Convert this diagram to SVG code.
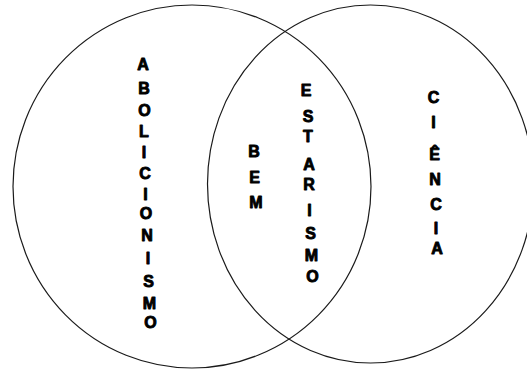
<svg xmlns="http://www.w3.org/2000/svg" width="527" height="370" viewBox="0 0 527 370">
<style>
.c{fill:none;stroke:#1a1a1a;stroke-width:1.2}
.t{font-family:"Liberation Sans",Arial,sans-serif;font-weight:bold;font-size:16px;fill:#000;stroke:#000;stroke-width:0.9;stroke-linejoin:round;text-anchor:middle}
</style>
<rect width="527" height="370" fill="#fff"/>
<g id="set-left">
<ellipse class="c" cx="192" cy="186.5" rx="179" ry="181.5"/>
</g>
<g id="set-right">
<ellipse class="c" cx="370.5" cy="184" rx="163" ry="179"/>
</g>
<g id="label-abolicionismo">
<text class="t"><tspan x="143" y="69.5">A</tspan><tspan x="144" y="93.5">B</tspan><tspan x="144.5" y="116">O</tspan><tspan x="144" y="137">L</tspan><tspan x="144" y="158">I</tspan><tspan x="145" y="179">C</tspan><tspan x="145.5" y="200">I</tspan><tspan x="146" y="219">O</tspan><tspan x="147" y="240.5">N</tspan><tspan x="148" y="264">I</tspan><tspan x="148.5" y="286.5">S</tspan><tspan x="149.5" y="308.5">M</tspan><tspan x="150.5" y="328">O</tspan></text>
</g>
<g id="label-bem">
<text class="t"><tspan x="254" y="157">B</tspan><tspan x="254.5" y="183">E</tspan><tspan x="256" y="207.5">M</tspan></text>
</g>
<g id="label-estarismo">
<text class="t"><tspan x="306" y="96">E</tspan><tspan x="308" y="122">S</tspan><tspan x="308" y="142">T</tspan><tspan x="309" y="170">A</tspan><tspan x="309" y="190">R</tspan><tspan x="309.5" y="216">I</tspan><tspan x="310.5" y="239">S</tspan><tspan x="311.5" y="261">M</tspan><tspan x="312.5" y="282">O</tspan></text>
</g>
<g id="label-ciencia">
<text class="t"><tspan x="433.5" y="103">C</tspan><tspan x="433.5" y="128">I</tspan><tspan x="434.5" y="160">Ê</tspan><tspan x="435" y="185">N</tspan><tspan x="436" y="210">C</tspan><tspan x="436" y="233.5">I</tspan><tspan x="437" y="254">A</tspan></text>
</g>
</svg>
